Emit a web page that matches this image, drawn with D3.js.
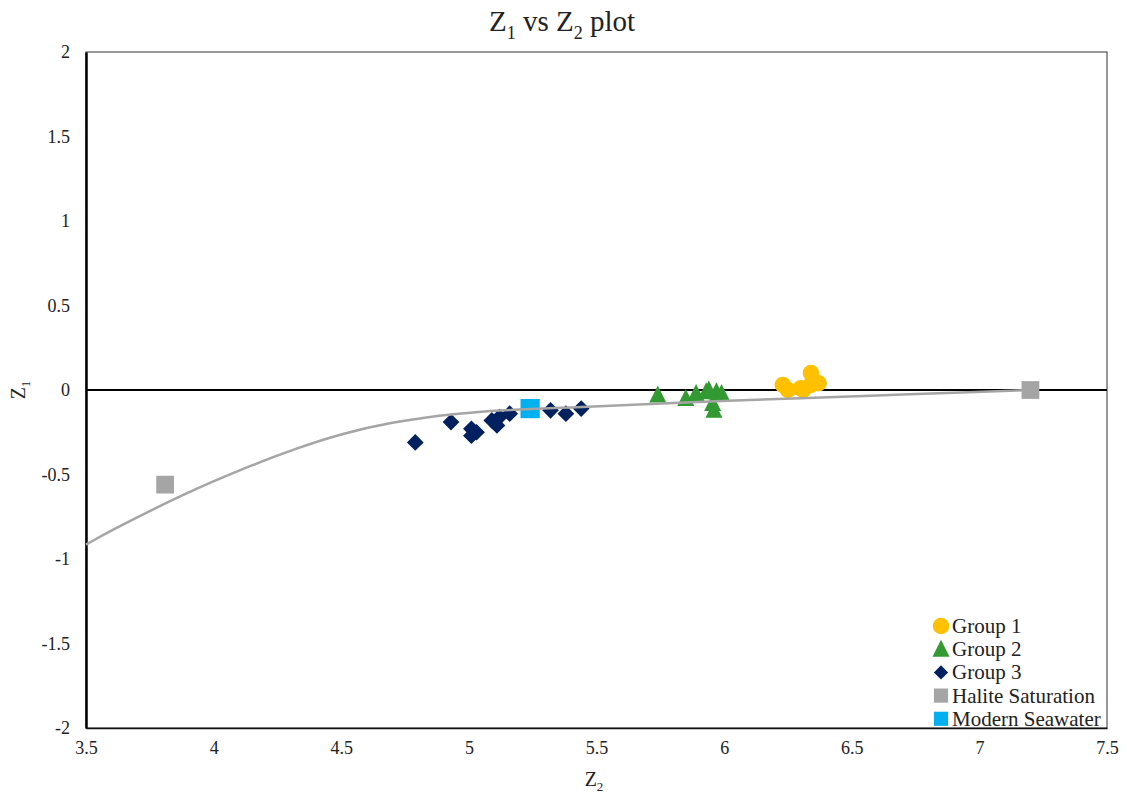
<!DOCTYPE html>
<html>
<head>
<meta charset="utf-8">
<script src="https://cdn.jsdelivr.net/npm/d3@7"></script>
<style>
  body { margin: 0; background: #fff; }
  svg text { font-family: "Liberation Serif", "Times New Roman", serif; fill: #222; }
</style>
</head>
<body>
<svg id="chart" width="1127" height="801"></svg>
<script>
// data
var group1Z2 = [6.23, 6.25, 6.30, 6.31, 6.34, 6.34, 6.37];
var group1Z1 = [0.03, 0.00, 0.01, 0.00, 0.10, 0.03, 0.04];

var group2Z2 = [5.74, 5.85, 5.89, 5.93, 5.94, 5.97, 5.99, 5.955, 5.96];
var group2Z1 = [-0.03, -0.05, -0.02, -0.01, 0.00, -0.01, -0.02, -0.08, -0.12];

var group3Z2 = [4.79, 4.93, 5.01, 5.01, 5.03, 5.09, 5.11, 5.12, 5.16, 5.32, 5.38, 5.44];
var group3Z1 = [-0.31, -0.19, -0.23, -0.27, -0.25, -0.18, -0.21, -0.16, -0.14, -0.12, -0.14, -0.11];

var haliteZ2 = [3.81, 7.2];
var haliteZ1 = [-0.56, 0];

var seawaterZ2 = [5.24];
var seawaterZ1 = [-0.11];

var curveZ2 = [3.5, 3.6, 3.75, 3.9, 4.0, 4.15, 4.3, 4.5, 4.7, 4.9, 5.0, 5.2, 5.4, 5.6, 5.8, 6.0, 6.3, 6.6, 6.9, 7.2];
var curveZ1 = [-0.915, -0.83, -0.715, -0.607, -0.54, -0.445, -0.358, -0.258, -0.19, -0.148, -0.133, -0.115, -0.103, -0.09, -0.077, -0.065, -0.048, -0.032, -0.017, 0];

var xTicks = [3.5, 4, 4.5, 5, 5.5, 6, 6.5, 7, 7.5];
var yTicks = [-2, -1.5, -1, -0.5, 0, 0.5, 1, 1.5, 2];

(function() {
    var svg = d3.select('#chart');
    var plotL = 86, plotR = 1107, plotT = 52, plotB = 728;

    var x = d3.scaleLinear().domain([3.5, 7.5]).range([plotL, plotR]);
    var y = d3.scaleLinear().domain([-2, 2]).range([plotB, plotT]);

    function zip(a, b) {
        return a.map(function(v, i) { return [v, b[i]]; });
    }
    // plain hyphen minus, like the spreadsheet labels
    function fmt(d) { return String(d); }

    // plot frame
    svg.append('rect')
        .attr('x', plotL).attr('y', plotT)
        .attr('width', plotR - plotL).attr('height', plotB - plotT)
        .style('fill', 'none').style('stroke', '#333').style('stroke-width', 1);

    // axes
    var xAxis = svg.append('g')
        .attr('transform', 'translate(0,' + plotB + ')')
        .call(d3.axisBottom(x).tickValues(xTicks).tickSize(0).tickPadding(13).tickFormat(fmt));
    xAxis.select('.domain').style('stroke', '#111').style('stroke-width', 1.5);
    xAxis.selectAll('text').style('font-size', '18px').style('fill', '#222');

    var yAxis = svg.append('g')
        .attr('transform', 'translate(' + plotL + ',0)')
        .call(d3.axisLeft(y).tickValues(yTicks).tickSize(0).tickPadding(16).tickFormat(fmt));
    yAxis.select('.domain').style('stroke', '#000').style('stroke-width', 2.5);
    yAxis.selectAll('text').style('font-size', '18px').style('fill', '#222');

    // zero line
    svg.append('line')
        .attr('x1', plotL).attr('x2', plotR)
        .attr('y1', y(0)).attr('y2', y(0))
        .style('stroke', '#000').style('stroke-width', 2);

    // markers
    var triPath = 'M0,-9.5L8.5,7.5L-8.5,7.5Z';
    var sym = {
        circle: d3.symbol().type(d3.symbolCircle).size(215),
        triangle: function() { return triPath; },
        diamond: d3.symbol().type(d3.symbolSquare).size(140),
        square: d3.symbol().type(d3.symbolSquare).size(315),
        bigSquare: d3.symbol().type(d3.symbolSquare).size(370)
    };

    function drawSeries(xs, ys, shape, color, rotate) {
        svg.append('g').selectAll('path')
            .data(zip(xs, ys))
            .enter().append('path')
            .attr('d', sym[shape])
            .attr('transform', function(d) {
                return 'translate(' + x(d[0]) + ',' + y(d[1]) + ')' + (rotate ? ' rotate(45)' : '');
            })
            .style('fill', color);
    }

    drawSeries(group1Z2, group1Z1, 'circle', '#FFC000');
    drawSeries(group2Z2, group2Z1, 'triangle', '#339933');
    drawSeries(group3Z2, group3Z1, 'diamond', '#002060', true);
    drawSeries(haliteZ2, haliteZ1, 'square', '#A5A5A5');
    drawSeries(seawaterZ2, seawaterZ1, 'bigSquare', '#00B0F0');

    // curve on top
    var line = d3.line()
        .x(function(d) { return x(d[0]); })
        .y(function(d) { return y(d[1]); })
        .curve(d3.curveBasis);

    svg.append('path')
        .datum(zip(curveZ2, curveZ1))
        .attr('d', line)
        .style('fill', 'none')
        .style('stroke', '#A5A5A5')
        .style('stroke-width', 2.5);

    // title
    var title = svg.append('text')
        .attr('x', 562).attr('y', 31)
        .attr('text-anchor', 'middle')
        .style('font-size', '29px');
    title.append('tspan').text('Z');
    title.append('tspan').attr('dy', 8).style('font-size', '18px').text('1');
    title.append('tspan').attr('dy', -8).text(' vs Z');
    title.append('tspan').attr('dy', 8).style('font-size', '18px').text('2');
    title.append('tspan').attr('dy', -8).text(' plot');

    // x axis title
    var xt = svg.append('text')
        .attr('x', 594).attr('y', 786)
        .attr('text-anchor', 'middle')
        .style('font-size', '20px');
    xt.append('tspan').text('Z');
    xt.append('tspan').attr('dy', 5).style('font-size', '13px').text('2');

    // y axis title
    var yt = svg.append('text')
        .attr('transform', 'translate(25,390) rotate(-90)')
        .attr('text-anchor', 'middle')
        .style('font-size', '20px');
    yt.append('tspan').text('Z');
    yt.append('tspan').attr('dy', 5).style('font-size', '13px').text('1');

    // legend
    var legendNames = ['Group 1', 'Group 2', 'Group 3', 'Halite Saturation', 'Modern Seawater'];
    var legendShapes = ['circle', 'triangle', 'diamond', 'square', 'square'];
    var legendColors = ['#FFC000', '#339933', '#002060', '#A5A5A5', '#00B0F0'];

    var legend = svg.append('g').attr('transform', 'translate(941,626)');
    legendNames.forEach(function(name, i) {
        var g = legend.append('g').attr('transform', 'translate(0,' + (i * 23.2) + ')');
        var s = legendShapes[i] === 'square' ? d3.symbol().type(d3.symbolSquare).size(200) : sym[legendShapes[i]];
        g.append('path')
            .attr('d', s)
            .attr('transform', legendShapes[i] === 'diamond' ? 'rotate(45) scale(0.85)' : null)
            .style('fill', legendColors[i]);
        g.append('text')
            .attr('x', 11).attr('y', 7)
            .style('font-size', '21px')
            .text(name);
    });
})();
</script>
</body>
</html>
